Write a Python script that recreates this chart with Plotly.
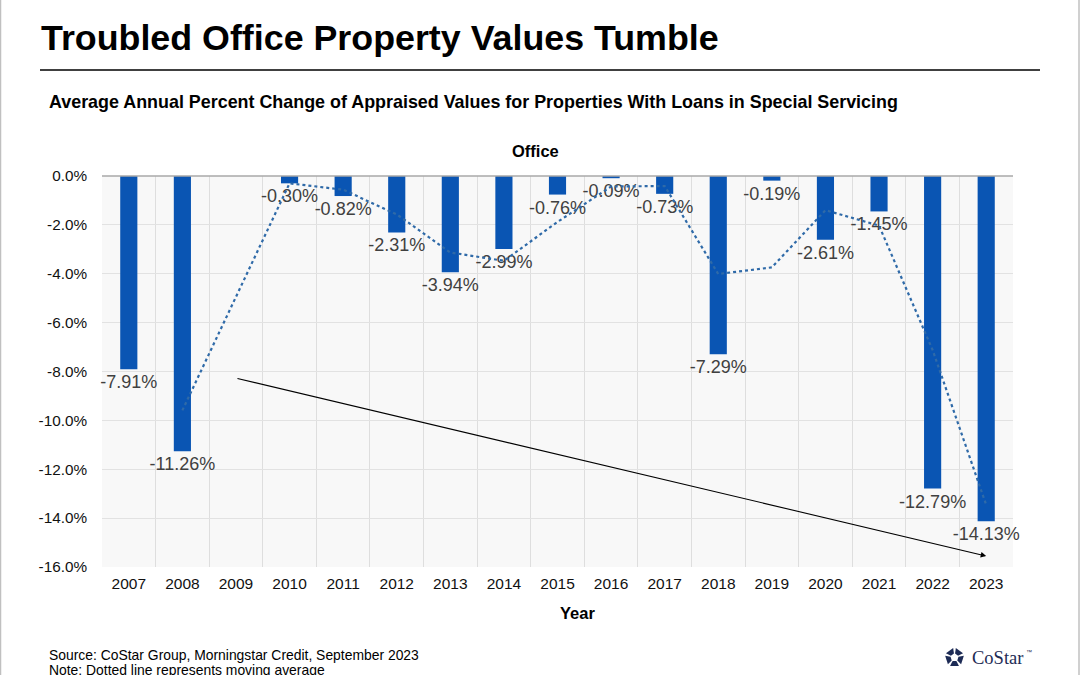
import math
import plotly.graph_objects as go

# ---- data ----
years = [str(y) for y in range(2007, 2024)]
pct_change = [-7.91, -11.26, None, -0.30, -0.82, -2.31, -3.94, -2.99, -0.76,
              -0.09, -0.73, -7.29, -0.19, -2.61, -1.45, -12.79, -14.13]
moving_avg = [None, -9.59, None, -0.30, -0.56, -1.57, -3.13, -3.47, -1.88,
              -0.43, -0.41, -4.01, -3.74, -1.40, -2.03, -7.12, -13.46]
y_tickvals = [0, -2, -4, -6, -8, -10, -12, -14, -16]
y_ticktext = ["0.0%", "-2.0%", "-4.0%", "-6.0%", "-8.0%", "-10.0%", "-12.0%", "-14.0%", "-16.0%"]
bar_labels = ["" if v is None else f"{v:.2f}%" for v in pct_change]
trend_start = ("2009", -8.27)
trend_end = ("2023", -15.55)

# ---- geometry (pixels) ----
W, H = 1080, 675
L, R, T, B = 102, 1013, 176, 567
PW, PH = R - L, B - T


def px(x):
    return (x - L) / PW


def py(y):
    return (B - y) / PH


FONT = "Liberation Sans, Arial, sans-serif"

fig = go.Figure()

fig.add_trace(go.Scatter(
    x=years, y=moving_avg, mode="lines", connectgaps=True,
    line=dict(color="#2f6aa8", width=2.2, dash="dot"),
    hoverinfo="skip", showlegend=False,
))

fig.add_trace(go.Bar(
    x=years, y=pct_change, marker=dict(color="#0a55b3", line=dict(width=0)),
    text=bar_labels, textposition="outside", cliponaxis=False, constraintext="none",
    textfont=dict(family=FONT, size=18, color="#404040"),
    width=0.32, showlegend=False,
))

fig.update_layout(
    width=W, height=H,
    margin=dict(l=L, r=W - R, t=T, b=H - B, pad=0),
    paper_bgcolor="white", plot_bgcolor="#f8f8f8",
    font=dict(family=FONT, color="black"),
    barmode="overlay",
)

fig.update_xaxes(
    type="category", categoryorder="array", categoryarray=years,
    range=[-0.5, len(years) - 0.5],
    tickson="boundaries", showgrid=True, gridcolor="#dedede",
    gridwidth=1, ticks="", showline=False, zeroline=False, tickangle=0,
    ticklabelstandoff=5,
    tickfont=dict(size=15.5, color="#111111"),
)
fig.update_yaxes(
    range=[-16, 0], tickvals=y_tickvals, ticktext=y_ticktext,
    showgrid=True, gridcolor="#e2e2e2", gridwidth=1, zeroline=False,
    showline=False, ticks="", ticklabelstandoff=14,
    tickfont=dict(size=15.3, color="#111111"),
)

# top axis line at 0
fig.add_shape(type="line", xref="paper", yref="paper", x0=0, x1=1, y0=1, y1=1,
              line=dict(color="#a8a8a8", width=1.5), layer="above")

# trend arrow
fig.add_annotation(
    x=years.index(trend_end[0]), y=trend_end[1],
    ax=years.index(trend_start[0]), ay=trend_start[1],
    xref="x", yref="y", axref="x", ayref="y",
    showarrow=True, arrowhead=2, arrowsize=1, arrowwidth=1.1, arrowcolor="black", text="",
)

# titles and text
fig.add_annotation(text="<b>Troubled Office Property Values Tumble</b>", xref="paper", yref="paper",
                   x=px(39), y=py(38), xanchor="left", yanchor="middle", showarrow=False,
                   font=dict(family=FONT, size=35.8, color="black"))
fig.add_shape(type="line", xref="paper", yref="paper", x0=px(40), x1=px(1040), y0=py(70), y1=py(70),
              line=dict(color="black", width=1.6))
fig.add_annotation(text="<b>Average Annual Percent Change of Appraised Values for Properties With Loans in Special Servicing</b>",
                   xref="paper", yref="paper", x=px(47), y=py(102), xanchor="left", yanchor="middle",
                   showarrow=False, font=dict(family=FONT, size=17.9, color="black"))
fig.add_annotation(text="<b>Office</b>", xref="paper", yref="paper", x=px(535), y=py(151),
                   xanchor="center", yanchor="middle", showarrow=False,
                   font=dict(family=FONT, size=16.5, color="black"))
fig.add_annotation(text="<b>Year</b>", xref="paper", yref="paper", x=px(577), y=py(613),
                   xanchor="center", yanchor="middle", showarrow=False,
                   font=dict(family=FONT, size=16.5, color="black"))
fig.add_annotation(text="Source: CoStar Group, Morningstar Credit, September 2023", xref="paper", yref="paper",
                   x=px(47), y=py(655), xanchor="left", yanchor="middle", showarrow=False,
                   font=dict(family=FONT, size=13.9, color="black"))
fig.add_annotation(text="Note: Dotted line represents moving average", xref="paper", yref="paper",
                   x=px(47), y=py(670), xanchor="left", yanchor="middle", showarrow=False,
                   font=dict(family=FONT, size=13.9, color="black"))

# CoStar logo
fig.add_annotation(text="CoStar", xref="paper", yref="paper",
                   x=px(970), y=py(658), xanchor="left", yanchor="middle", showarrow=False,
                   font=dict(family="Liberation Serif, serif", size=18.5, color="#1d2b55"))
fig.add_annotation(text="™", xref="paper", yref="paper",
                   x=px(1024), y=py(652), xanchor="left", yanchor="middle", showarrow=False,
                   font=dict(family=FONT, size=6, color="#1d2b55"))
cx, cy, r_in, r_out = 954.5, 657.5, 4.0, 9.5
for k in range(5):
    a0 = math.radians(-90 + k * 72 + 8)
    a1 = math.radians(-90 + k * 72 + 64)
    pts = [(cx + r_in * math.cos(a0), cy + r_in * math.sin(a0)),
           (cx + r_out * math.cos(a0), cy + r_out * math.sin(a0)),
           (cx + r_out * math.cos(a1), cy + r_out * math.sin(a1)),
           (cx + r_in * math.cos(a1), cy + r_in * math.sin(a1))]
    path = "M " + " L ".join(f"{px(x):.5f},{py(y):.5f}" for x, y in pts) + " Z"
    fig.add_shape(type="path", xref="paper", yref="paper", path=path,
                  fillcolor="#1d2b55", line=dict(width=0))

# page borders
fig.add_shape(type="line", xref="paper", yref="paper", x0=px(0.5), x1=px(0.5), y0=py(0), y1=py(675),
              line=dict(color="#c0c0c0", width=1.5))
fig.add_shape(type="line", xref="paper", yref="paper", x0=px(1079), x1=px(1079), y0=py(0), y1=py(675),
              line=dict(color="#c0c0c0", width=1.5))

fig.write_html("out.html")
